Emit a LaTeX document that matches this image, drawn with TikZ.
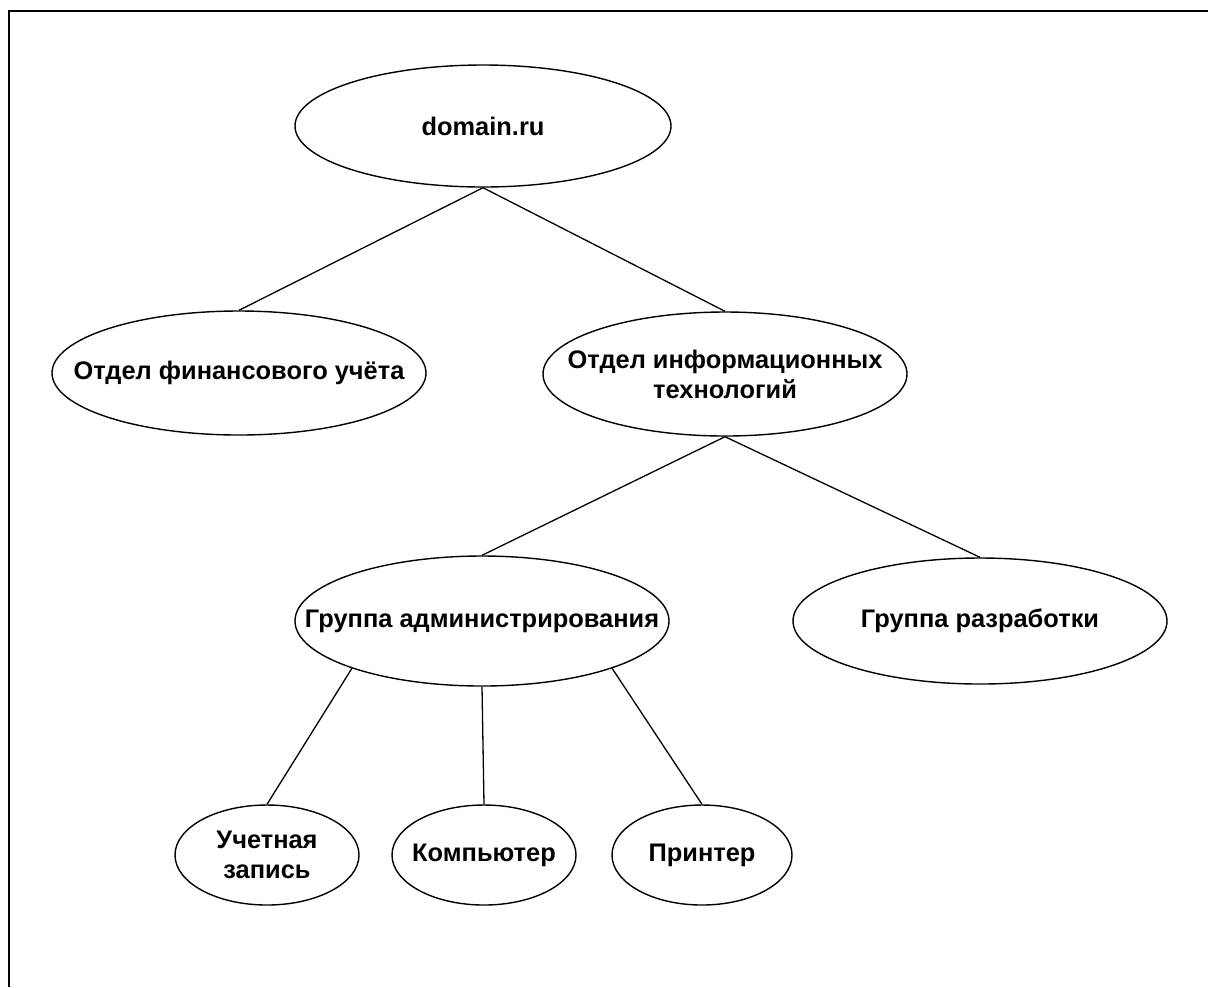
\documentclass[tikz,border=0pt]{standalone}
\usepackage{fontspec}
\setmainfont{Liberation Sans}
\usetikzlibrary{shapes.geometric}

\tikzset{
  unit/.style={draw, ellipse, line width=0.7pt, inner sep=0pt,
    label={[align=center, font=\fontsize{12.7}{15}\selectfont\bfseries]center:{#1}}},
  link/.style={line width=0.65pt}
}

\begin{document}
\begin{tikzpicture}[x=0.5pt,y=-0.5pt]
   \useasboundingbox (0,0) rectangle (1208,987);
   \draw[line width=1pt] (8.5,987) -- (8.5,10.5) -- (1208,10.5);

   \node[unit={domain.ru}, minimum width=188pt, minimum height=61pt] (R) at (483,126) {};
   \node[unit={Отдел финансового учёта}, minimum width=187pt, minimum height=62pt] (F) at (239,373) {};
   \node[unit={Отдел информационных\\технологий}, minimum width=182pt, minimum height=62pt] (I) at (725,374) {};
   \node[unit={Группа администрирования}, minimum width=187pt, minimum height=65pt] (A) at (482,621) {};
   \node[unit={Группа разработки}, minimum width=187pt, minimum height=63pt] (D) at (980,621) {};
   \node[unit={Учетная\\запись}, minimum width=92pt, minimum height=50pt] (U) at (267,855) {};
   \node[unit={Компьютер}, minimum width=92pt, minimum height=50pt] (K) at (484,855) {};
   \node[unit={Принтер}, minimum width=90pt, minimum height=50pt] (P) at (702,855) {};

   \draw[link] (R.south) -- (F.north);
   \draw[link] (R.south) -- (I.north);
   \draw[link] (I.south) -- (A.north);
   \draw[link] (I.south) -- (D.north);
   \draw[link] (A.-160) -- (U.north);
   \draw[link] (A.south) -- (K.north);
   \draw[link] (A.-20) -- (P.north);
\end{tikzpicture}
\end{document}
